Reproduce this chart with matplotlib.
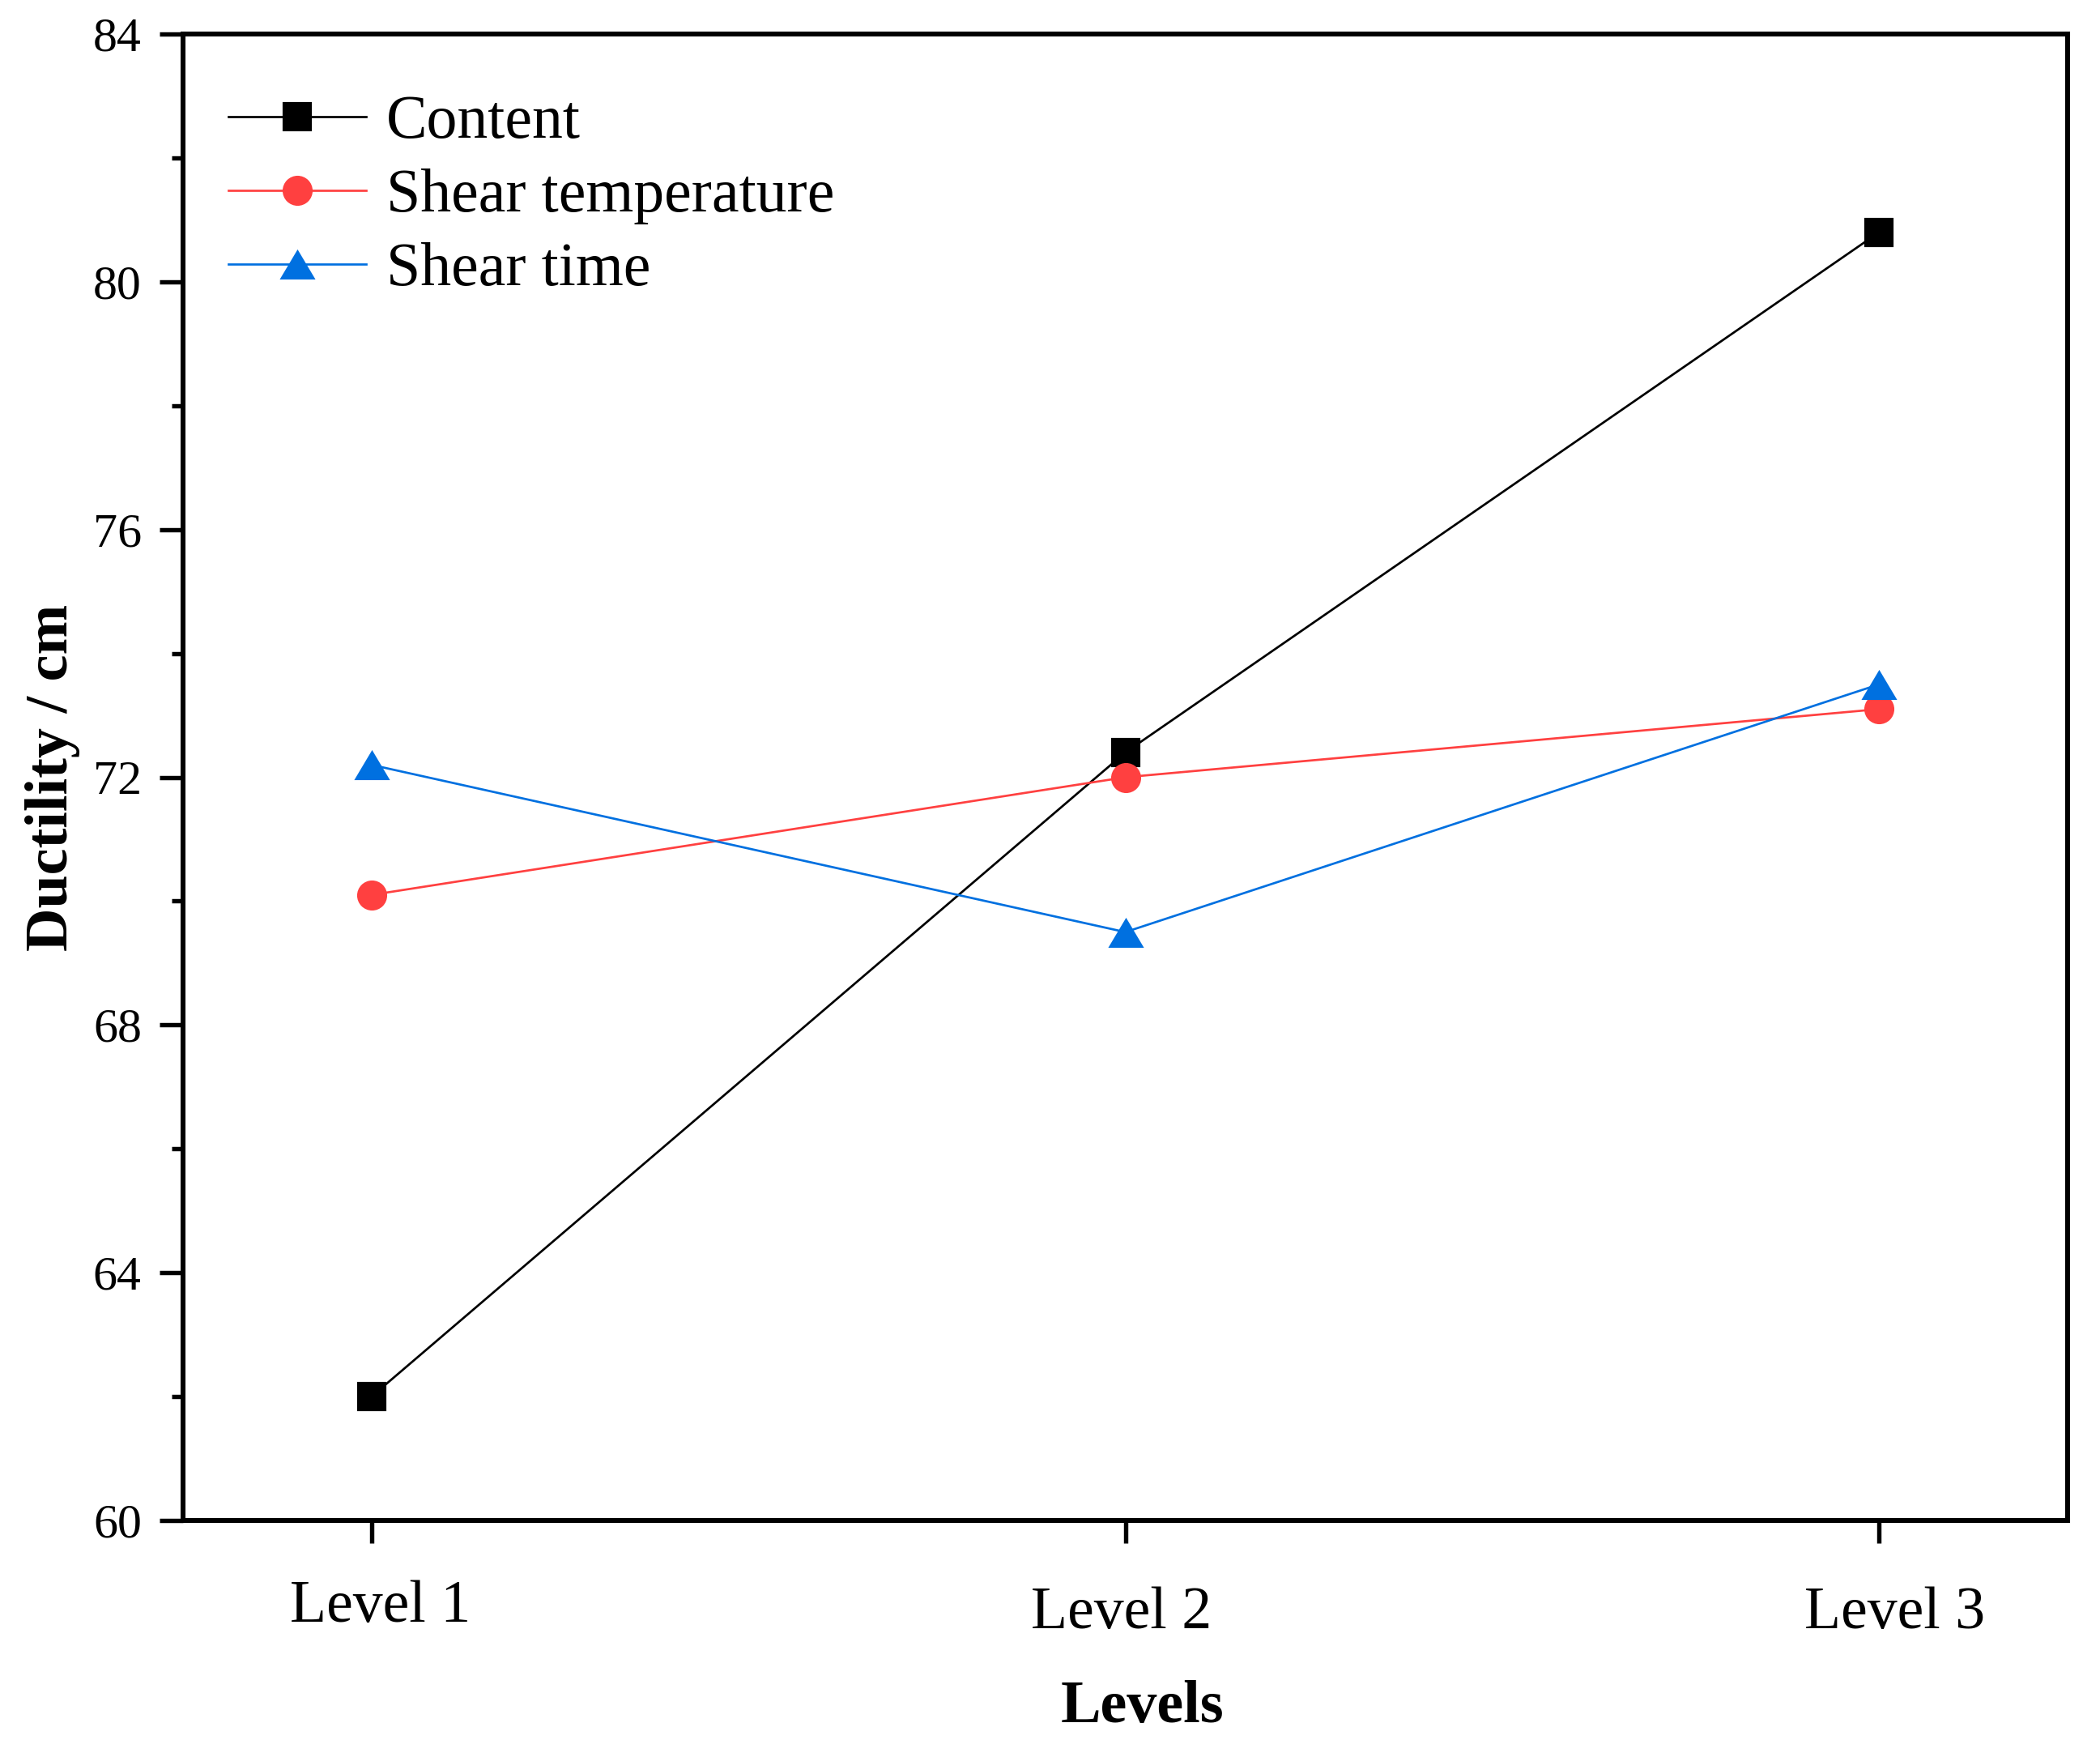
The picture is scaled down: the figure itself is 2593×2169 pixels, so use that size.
import matplotlib
matplotlib.use("Agg")
import matplotlib.pyplot as plt
from matplotlib.ticker import MultipleLocator
from matplotlib.transforms import ScaledTranslation

plt.rcParams['font.family'] = ['Liberation Serif', 'DejaVu Serif']

levels = ["Level 1", "Level 2", "Level 3"]
content = [62.0, 72.4, 80.8]
shear_temperature = [70.1, 72.0, 73.1]
shear_time = [72.2, 69.5, 73.5]

W, H, DPI = 2593, 2169, 300
fig = plt.figure(figsize=(W / DPI, H / DPI), dpi=DPI)
L, R, T, B = 226, 2553, 42, 1877
ax = fig.add_axes([L / W, 1 - B / H, (R - L) / W, (B - T) / H])

tri = [(0, 1), (-1.19, -1), (1.19, -1)]

x = list(range(1, len(levels) + 1))
ax.plot(x, content, color='black', lw=0.65, marker='s', ms=7.7, label='Content')
ax.plot(x, shear_temperature, color='#FF4040', lw=0.65, marker='o', ms=8.9,
        markeredgewidth=0, label='Shear temperature')
ax.plot(x, shear_time, color='#0070E0', lw=0.65, marker=tri, ms=10.6,
        markeredgewidth=0, label='Shear time')

ax.set_xlim(0.75, 3.25)
ax.set_ylim(60, 84)
ax.set_xticks(x)
ax.set_xticklabels(levels)
ax.yaxis.set_major_locator(MultipleLocator(4))
ax.yaxis.set_minor_locator(MultipleLocator(2))

for s in ax.spines.values():
    s.set_linewidth(1.45)

ax.tick_params(axis='both', which='major', direction='out', width=1.3)
ax.tick_params(axis='x', which='major', length=6.7, pad=25.2, labelsize=17.7)
ax.tick_params(axis='y', which='major', length=7, pad=5.3, labelsize=14.4)
ax.tick_params(axis='y', which='minor', direction='out', length=3.4, width=1.3)
ax.tick_params(top=False, right=False, which='both')

# small offsets of the x tick labels as in the reference (pixels)
offsets = [(11, 8), (-5, 0), (19, 0)]
for lab, (dx, dy) in zip(ax.get_xticklabels(), offsets):
    lab.set_verticalalignment('baseline')
    lab.set_transform(lab.get_transform() + ScaledTranslation(dx / DPI, dy / DPI, fig.dpi_scale_trans))

ax.set_xlabel('Levels', fontsize=17.8, fontweight='bold', va='baseline')
ax.xaxis.set_label_coords(0.5092, -0.1357)
ax.set_ylabel('Ductility / cm', fontsize=17.8, fontweight='bold', va='baseline')
ax.yaxis.set_label_coords(-0.0615, 0.5)

ax.legend(loc='upper left', bbox_to_anchor=(0.024, 0.959), frameon=False,
          fontsize=18.2, borderpad=0, borderaxespad=0, handlelength=2.25,
          handletextpad=0.32, labelspacing=0.29)

fig.savefig('out.png', dpi=DPI)
